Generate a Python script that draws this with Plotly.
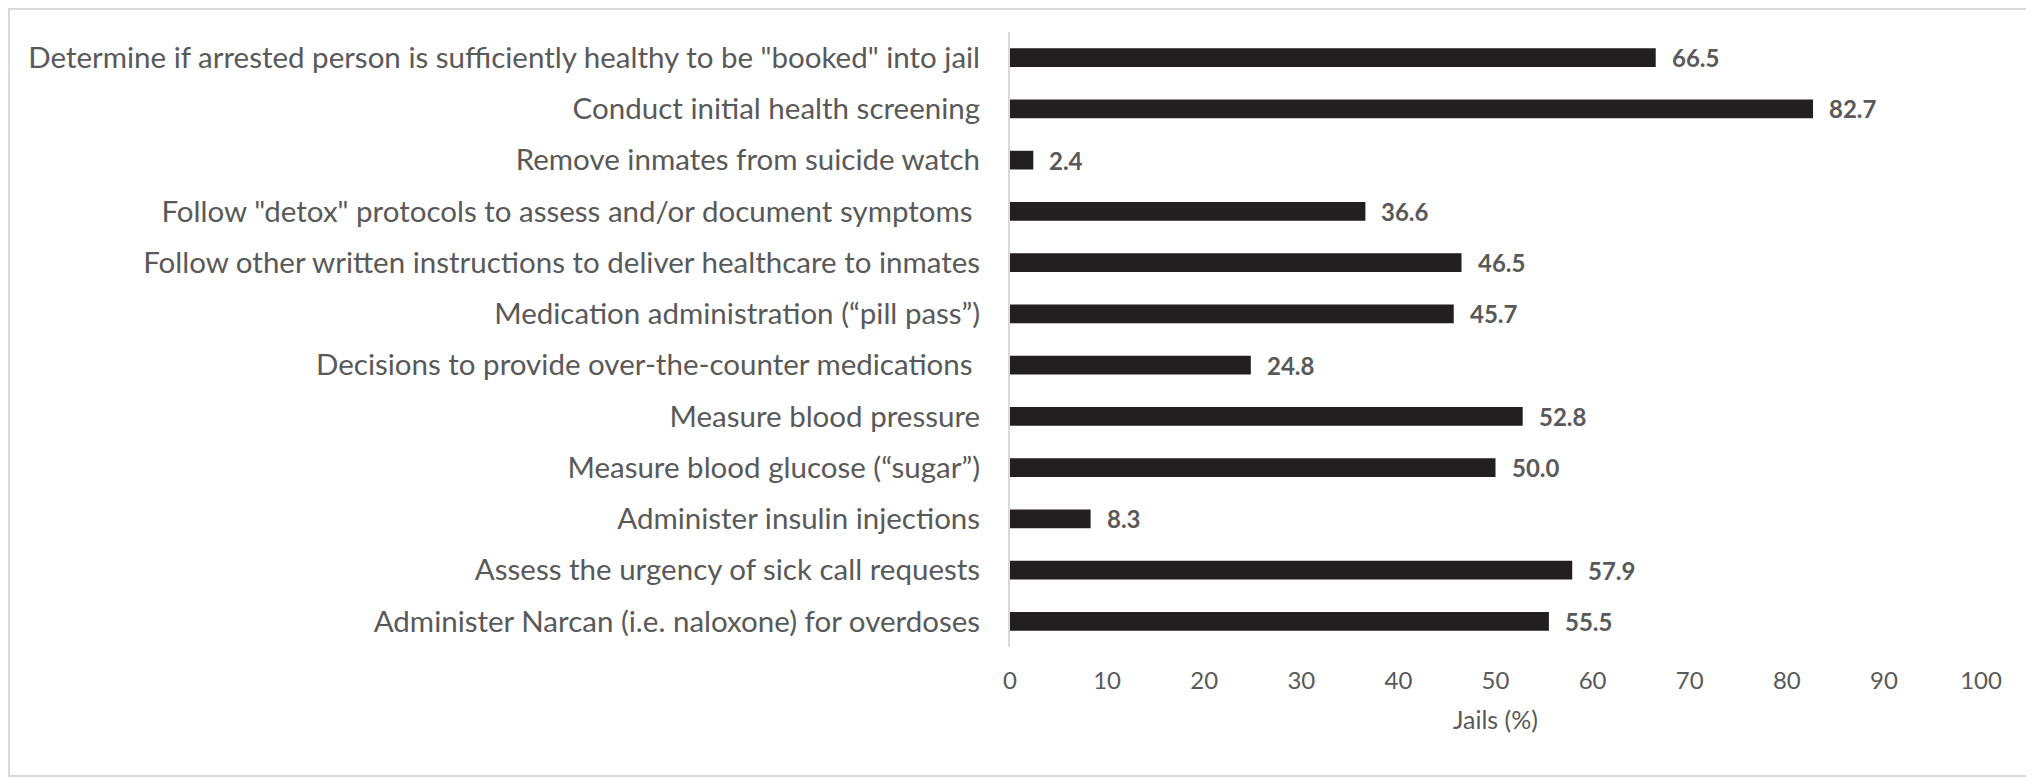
import plotly.graph_objects as go

categories = [
    'Determine if arrested person is sufficiently healthy to be "booked" into jail',
    'Conduct initial health screening',
    'Remove inmates from suicide watch',
    'Follow "detox" protocols to assess and/or document symptoms ',
    'Follow other written instructions to deliver healthcare to inmates',
    'Medication administration (\u201cpill pass\u201d)',
    'Decisions to provide over-the-counter medications ',
    'Measure blood pressure',
    'Measure blood glucose (\u201csugar\u201d)',
    'Administer insulin injections',
    'Assess the urgency of sick call requests',
    'Administer Narcan (i.e. naloxone) for overdoses',
]
values = [66.5, 82.7, 2.4, 36.6, 46.5, 45.7, 24.8, 52.8, 50.0, 8.3, 57.9, 55.5]
x_ticks = [0, 10, 20, 30, 40, 50, 60, 70, 80, 90, 100]
x_title = "Jails (%)"

# page body has an 8px margin, so the figure is offset by 8px
OFF = 8
W, H = 2034 - OFF, 777 - OFF
L, R, T, B = 1010 - OFF, 53, 32 - OFF, 130
pw, ph = W - L - R, H - T - B

FONT = "Lato, Carlito, Calibri, sans-serif"
GREY = "#595959"

fig = go.Figure(go.Bar(
    y=categories,
    x=values,
    orientation="h",
    marker=dict(color="#231f20", line=dict(width=0)),
    hoverinfo="x+y",
))

annotations = [
    dict(x=v, y=c, xref="x", yref="y", text=f"<b>{v:.1f}</b>",
         showarrow=False, xanchor="left", yanchor="middle", xshift=14,
         font=dict(family=FONT, size=24, color=GREY))
    for c, v in zip(categories, values)
]

fig.update_layout(
    width=W, height=H,
    margin=dict(l=L, r=R, t=T, b=B, pad=0),
    paper_bgcolor="white",
    plot_bgcolor="white",
    bargap=0.635,
    showlegend=False,
    font=dict(family=FONT, color=GREY),
    annotations=annotations,
    xaxis=dict(
        range=[0, 100],
        tickvals=x_ticks,
        showgrid=False,
        zeroline=False,
        showline=False,
        ticks="",
        ticklabelstandoff=17,
        tickfont=dict(family=FONT, size=24, color=GREY),
        title=dict(text=x_title, font=dict(family=FONT, size=25, color=GREY), standoff=18),
    ),
    yaxis=dict(
        autorange="reversed",
        showgrid=False,
        zeroline=False,
        showline=True,
        linecolor="#d9d9d9",
        linewidth=2,
        ticks="",
        ticklabelstandoff=22,
        tickfont=dict(family=FONT, size=29.5, color=GREY),
    ),
    shapes=[dict(
        type="rect", xref="paper", yref="paper",
        x0=(1 - L) / pw, x1=(W - 1 - L) / pw,
        y0=-(B - 1) / ph, y1=1 + (T - 1) / ph,
        line=dict(color="#d9d9d9", width=2),
        fillcolor="rgba(0,0,0,0)",
        layer="below",
    )],
)

fig.write_html("out.html")
